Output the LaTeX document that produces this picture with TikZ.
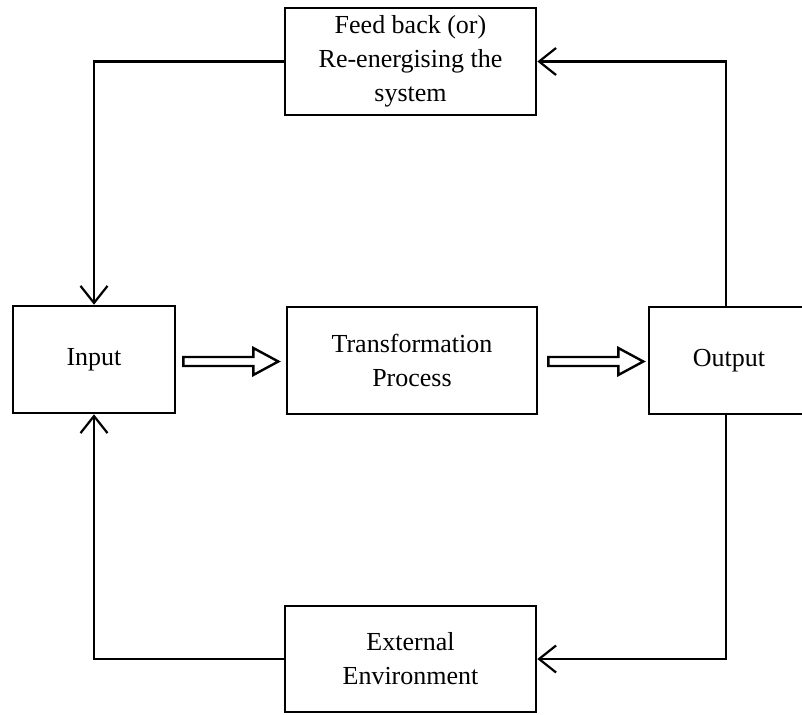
\documentclass[tikz,border=0pt]{standalone}
\usepackage{fontspec}
\setmainfont{Liberation Serif}
\usetikzlibrary{arrows.meta,calc}
\begin{document}
\begin{tikzpicture}[x=1pt,y=-1pt,
  box/.style={draw,line width=2.6pt,inner sep=0pt,align=center,
    font=\fontsize{26}{34}\selectfont},
  conn/.style={line width=2.2pt,-{Straight Barb[length=17pt,width=27pt,line width=2.2pt]}},
  hollow/.style={draw,line width=2.4pt,fill=white,line join=miter}]
\useasboundingbox (0,0) rectangle (802,714);
\node[box,minimum width=251pt,minimum height=107pt] (fb) at (410.5,61.5) {Feed back (or)\\Re-energising the\\system};
\node[box,minimum width=162pt,minimum height=107pt] (in) at (94,359.5) {Input};
\node[box,minimum width=250pt,minimum height=107pt] (tp) at (412,360.5) {Transformation\\Process};
\node[box,minimum width=154pt,minimum height=107pt] (out) at (726,360.5) {\hspace*{6pt}Output};
\node[box,minimum width=251pt,minimum height=106pt] (ext) at (410.5,659) {External\\Environment};
\draw[conn] (fb.west) -| (in.north);
\draw[conn] (out.north) |- (fb.east);
\draw[conn] (out.south) |- (ext.east);
\draw[conn] (ext.west) -| (in.south);
\coordinate (h1) at ($(in.east)+(7,2)$);
\coordinate (h2) at ($(tp.east)+(10,1)$);
\foreach \c in {h1,h2}{
  \draw[hollow] ($(\c)+(0,-4.5)$) -- ++(70,0) -- ++(0,-9) -- ++(25,13.5) -- ++(-25,13.5) -- ++(0,-9) -- ++(-70,0) -- cycle;
}
\end{tikzpicture}
\end{document}
